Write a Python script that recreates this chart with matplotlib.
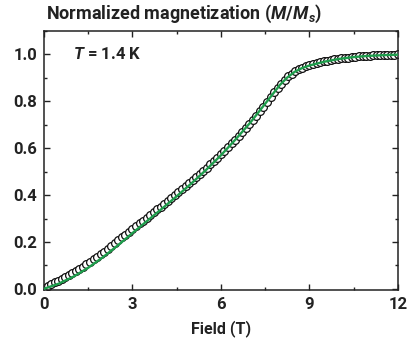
import matplotlib
matplotlib.use("Agg")
import matplotlib.pyplot as plt
import numpy as np
from matplotlib.ticker import MultipleLocator

# ---- data ----
field_step = 0.12
magnetization = [
    0.005, 0.012, 0.019, 0.027, 0.034, 0.042, 0.050, 0.058, 0.067, 0.076,
    0.085, 0.095, 0.105, 0.115, 0.126, 0.137, 0.148, 0.159, 0.171, 0.183,
    0.195, 0.207, 0.219, 0.231, 0.243, 0.255, 0.267, 0.279, 0.291, 0.303,
    0.315, 0.327, 0.339, 0.351, 0.363, 0.375, 0.387, 0.399, 0.411, 0.424,
    0.437, 0.450, 0.463, 0.476, 0.489, 0.503, 0.517, 0.531, 0.545, 0.560,
    0.575, 0.590, 0.605, 0.621, 0.637, 0.653, 0.670, 0.687, 0.704, 0.721,
    0.739, 0.757, 0.776, 0.796, 0.817, 0.838, 0.858, 0.876, 0.892, 0.906,
    0.918, 0.928, 0.936, 0.943, 0.949, 0.954, 0.959, 0.963, 0.967, 0.970,
    0.973, 0.976, 0.979, 0.981, 0.983, 0.985, 0.987, 0.989, 0.990, 0.992,
    0.993, 0.994, 0.995, 0.996, 0.997, 0.997, 0.998, 0.998, 0.999, 0.999,
    1.000,
]
field = np.arange(len(magnetization)) * field_step

fit_field = [0, 0.5, 1.0, 1.5, 2.0, 2.5, 3.0, 3.5, 4.0, 4.5, 5.0, 5.5, 6.0,
             6.5, 7.0, 7.5, 7.75, 8.0, 8.25, 8.5, 8.75, 9.0, 9.5, 10.0,
             10.5, 11.0, 11.5, 12.0]
fit_m = [0.0, 0.022, 0.052, 0.09, 0.135, 0.185, 0.238, 0.29, 0.342, 0.395,
         0.45, 0.508, 0.57, 0.638, 0.71, 0.79, 0.83, 0.87, 0.902, 0.926,
         0.942, 0.953, 0.969, 0.981, 0.989, 0.994, 0.997, 0.999]

xticks = [0, 3, 6, 9, 12]
yticks = [0.0, 0.2, 0.4, 0.6, 0.8, 1.0]

plt.rcParams['font.family'] = ['Roboto', 'DejaVu Sans']
plt.rcParams['mathtext.fontset'] = 'custom'
plt.rcParams['mathtext.it'] = 'Roboto:italic:bold'
plt.rcParams['mathtext.rm'] = 'Roboto:bold'

fig = plt.figure(figsize=(4.13, 3.41), dpi=100)
ax = fig.add_axes([0.1065, 0.1496, 0.857, 0.7594])

ax.plot(field, magnetization, 'o', ms=5.6, mfc='white', mec='#111111',
        mew=0.9, zorder=2)
ax.plot(fit_field, fit_m, '-', color='#1e9e4c', lw=1.7, zorder=3)

ax.set_xlim(0, 12)
ax.set_ylim(-0.005, 1.1)
ax.set_xticks(xticks)
ax.set_yticks(yticks)
ax.set_yticklabels([f"{v:.1f}" for v in yticks])
ax.xaxis.set_minor_locator(MultipleLocator(1.5))
ax.yaxis.set_minor_locator(MultipleLocator(0.1))
ax.tick_params(which='both', direction='in', top=True, right=True,
               width=1.0, labelsize=12, colors='#222222')
ax.tick_params(which='major', length=4.5, pad=5)
ax.tick_params(which='minor', length=2.5)
for lab in ax.get_xticklabels() + ax.get_yticklabels():
    lab.set_fontweight('bold')
for s in ax.spines.values():
    s.set_linewidth(1.1)
    s.set_color('#222222')

ax.set_xlabel('Field (T)', fontsize=11.5, fontweight='bold', labelpad=6,
              color='#222222')
ax.text(0.005, 1.025, r'Normalized magnetization ($\mathit{M}$/$\mathit{M}_s$)',
        transform=ax.transAxes, fontsize=13, fontweight='bold',
        ha='left', va='bottom', color='#222222')
ax.text(0.98, 1.0, r'$\mathit{T}$ = 1.4 K', fontsize=12,
        fontweight='bold', ha='left', va='center', color='#222222')

fig.savefig('out.png', dpi=100)
